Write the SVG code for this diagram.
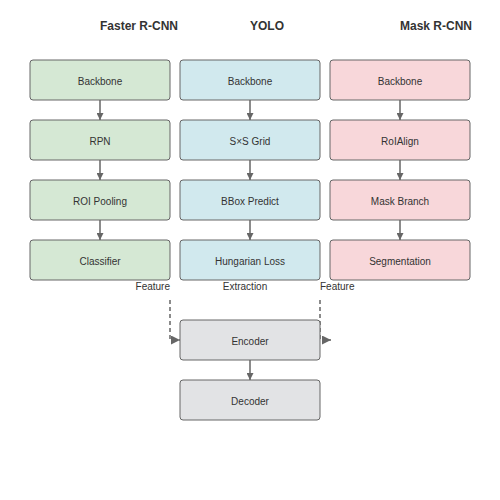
<svg xmlns="http://www.w3.org/2000/svg" width="500" height="500" viewBox="0 0 500 500">
<style>
.n{stroke:#666;stroke-width:1}
.g{fill:#d5e8d4}.b{fill:#d1e9ee}.p{fill:#f8d7da}.x{fill:#e2e3e5}
.t{font-family:"Liberation Sans",Arial,sans-serif;font-size:10px;fill:#333;text-anchor:middle}
.h{font-family:"Liberation Sans",Arial,sans-serif;font-size:12px;font-weight:bold;fill:#333}
.c{stroke:#666;stroke-width:1.5;fill:none}
.d{stroke:#666;stroke-width:1.5;fill:none;stroke-dasharray:4,3}
</style>
<defs>
<marker id="a" viewBox="0 0 10 10" refX="10" refY="5" markerWidth="7" markerHeight="7" markerUnits="userSpaceOnUse" orient="auto"><path d="M0,0L10,5L0,10z" fill="#666"/></marker>
<marker id="ad" viewBox="0 0 10 10" refX="10" refY="5" markerWidth="9" markerHeight="9" markerUnits="userSpaceOnUse" orient="auto"><path d="M0,0L10,5L0,10z" fill="#666"/></marker>
</defs>
<rect width="500" height="500" fill="#fff"/>
<g id="headers">
<text class="h" x="100" y="30">Faster R-CNN</text>
<text class="h" x="250" y="30">YOLO</text>
<text class="h" x="400" y="30">Mask R-CNN</text>
</g>
<g id="connectors">
<path class="c" d="M100,100V120" marker-end="url(#a)"/>
<path class="c" d="M100,160V180" marker-end="url(#a)"/>
<path class="c" d="M100,220V240" marker-end="url(#a)"/>
<path class="c" d="M250,100V120" marker-end="url(#a)"/>
<path class="c" d="M250,160V180" marker-end="url(#a)"/>
<path class="c" d="M250,220V240" marker-end="url(#a)"/>
<path class="c" d="M400,100V120" marker-end="url(#a)"/>
<path class="c" d="M400,160V180" marker-end="url(#a)"/>
<path class="c" d="M400,220V240" marker-end="url(#a)"/>
<path class="c" d="M250,360V380" marker-end="url(#a)"/>
<path class="d" d="M170,300V340H180" marker-end="url(#ad)"/>
<path class="d" d="M320,300V340H331" marker-end="url(#ad)"/>
<text class="t" x="170" y="290" style="text-anchor:end">Feature</text>
<text class="t" x="245" y="290">Extraction</text>
<text class="t" x="320" y="290" style="text-anchor:start">Feature</text>
</g>
<g id="frcnn_backbone"><rect class="n g" x="30" y="60" width="140" height="40" rx="3"/><text class="t" x="100" y="85">Backbone</text></g>
<g id="frcnn_rpn"><rect class="n g" x="30" y="120" width="140" height="40" rx="3"/><text class="t" x="100" y="145">RPN</text></g>
<g id="frcnn_roi"><rect class="n g" x="30" y="180" width="140" height="40" rx="3"/><text class="t" x="100" y="205">ROI Pooling</text></g>
<g id="frcnn_cls"><rect class="n g" x="30" y="240" width="140" height="40" rx="3"/><text class="t" x="100" y="265">Classifier</text></g>
<g id="yolo_backbone"><rect class="n b" x="180" y="60" width="140" height="40" rx="3"/><text class="t" x="250" y="85">Backbone</text></g>
<g id="yolo_grid"><rect class="n b" x="180" y="120" width="140" height="40" rx="3"/><text class="t" x="250" y="145">S×S Grid</text></g>
<g id="yolo_bbox"><rect class="n b" x="180" y="180" width="140" height="40" rx="3"/><text class="t" x="250" y="205">BBox Predict</text></g>
<g id="yolo_loss"><rect class="n b" x="180" y="240" width="140" height="40" rx="3"/><text class="t" x="250" y="265">Hungarian Loss</text></g>
<g id="mask_backbone"><rect class="n p" x="330" y="60" width="140" height="40" rx="3"/><text class="t" x="400" y="85">Backbone</text></g>
<g id="mask_roialign"><rect class="n p" x="330" y="120" width="140" height="40" rx="3"/><text class="t" x="400" y="145">RoIAlign</text></g>
<g id="mask_branch"><rect class="n p" x="330" y="180" width="140" height="40" rx="3"/><text class="t" x="400" y="205">Mask Branch</text></g>
<g id="mask_seg"><rect class="n p" x="330" y="240" width="140" height="40" rx="3"/><text class="t" x="400" y="265">Segmentation</text></g>
<g id="encoder"><rect class="n x" x="180" y="320" width="140" height="40" rx="3"/><text class="t" x="250" y="345">Encoder</text></g>
<g id="decoder"><rect class="n x" x="180" y="380" width="140" height="40" rx="3"/><text class="t" x="250" y="405">Decoder</text></g>
</svg>
